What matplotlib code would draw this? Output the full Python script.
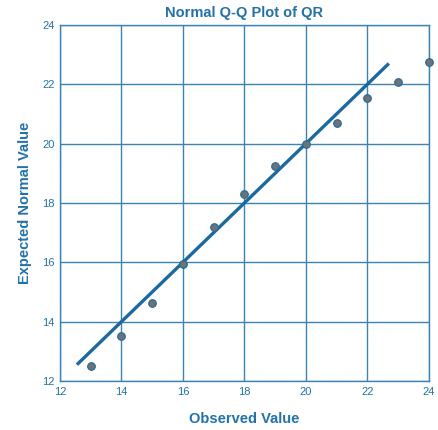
import numpy as np
import matplotlib.pyplot as plt

# =========================
# DATA
# =========================
observed = [13, 14, 15, 16, 17, 18, 19, 20, 21, 22, 23, 24]
expected = [12.51, 13.53, 14.64, 15.95, 17.2, 18.3, 19.23, 20.0, 20.7, 21.53, 22.08, 22.75]
line_range = [12.55, 22.7]
ticks = [12, 14, 16, 18, 20, 22, 24]

BLUE = "#1a6aa0"
TEXT = "#2272a8"
GRID = "#3b82b5"

plt.rcParams["font.family"] = ["Liberation Sans", "DejaVu Sans"]

fig = plt.figure(figsize=(4.38, 4.30), dpi=100)
ax = fig.add_axes([0.137, 0.114, 0.842, 0.828])

ax.plot(line_range, line_range, color=BLUE, lw=2.4, solid_capstyle="butt", zorder=3)
ax.scatter(observed, expected, s=30, color="#6f7275", edgecolors=BLUE,
           linewidths=0.8, zorder=4, clip_on=False)

ax.set_xlim(12, 24)
ax.set_ylim(12, 24)
ax.set_xticks(ticks)
ax.set_yticks(ticks)
ax.grid(True, color=GRID, lw=1.0)
ax.set_axisbelow(True)
ax.tick_params(length=0, labelsize=8, colors=TEXT, pad=4)
for s in ax.spines.values():
    s.set_color(GRID)
    s.set_linewidth(1.0)

ax.set_title("Normal Q-Q Plot of QR", color=TEXT, fontsize=10.5,
             fontweight="bold", pad=6)
ax.set_xlabel("Observed Value", color=TEXT, fontsize=10.5,
              fontweight="bold", labelpad=11)
ax.set_ylabel("Expected Normal Value", color=TEXT, fontsize=10.5,
              fontweight="bold", labelpad=7)

plt.savefig("out.png", dpi=100)
